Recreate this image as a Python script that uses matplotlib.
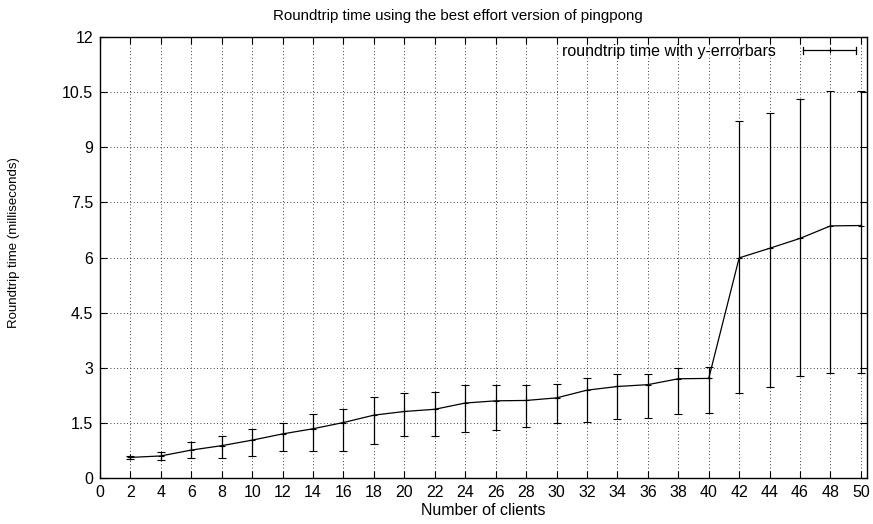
import matplotlib
matplotlib.use("Agg")
import matplotlib.pyplot as plt
from matplotlib.legend_handler import HandlerBase
from matplotlib.lines import Line2D

plt.rcParams['font.family'] = ['Liberation Sans', 'DejaVu Sans']

# Données
clients = [2, 4, 6, 8, 10, 12, 14, 16, 18, 20, 22, 24, 26,
           28, 30, 32, 34, 36, 38, 40, 42, 44, 46, 48, 50]
rtt = [0.56, 0.60, 0.76, 0.88, 1.03, 1.20, 1.34, 1.51, 1.71, 1.81, 1.87, 2.04, 2.10,
       2.11, 2.18, 2.39, 2.49, 2.54, 2.70, 2.71, 5.99, 6.25, 6.52, 6.86, 6.87]
rtt_low = [0.51, 0.50, 0.54, 0.55, 0.61, 0.73, 0.73, 0.73, 0.93, 1.15, 1.15, 1.26, 1.31,
           1.40, 1.50, 1.52, 1.61, 1.62, 1.73, 1.76, 2.30, 2.48, 2.78, 2.87, 2.87]
rtt_high = [0.61, 0.71, 0.97, 1.15, 1.34, 1.51, 1.75, 1.88, 2.20, 2.31, 2.33, 2.52, 2.52,
            2.52, 2.56, 2.73, 2.83, 2.83, 3.00, 3.03, 9.72, 9.94, 10.30, 10.54, 10.54]

xticks = list(range(0, 51, 2))
yticks = [0, 1.5, 3, 4.5, 6, 7.5, 9, 10.5, 12]
ytick_labels = ['0', '1.5', '3', '4.5', '6', '7.5', '9', '10.5', '12']

err_low = [v - lo for v, lo in zip(rtt, rtt_low)]
err_high = [hi - v for v, hi in zip(rtt, rtt_high)]


# échantillon de légende façon gnuplot : barre horizontale avec petites bornes
class GnuplotErrKey(HandlerBase):
    def create_artists(self, legend, orig_handle, xdescent, ydescent,
                       width, height, fontsize, trans):
        y = height / 2 - ydescent
        x0, x1 = -xdescent, width - xdescent
        h = 2.5
        arts = [
            Line2D([x0, x1], [y, y], color='black', lw=0.9),
            Line2D([x0, x0], [y - h, y + h], color='black', lw=0.9),
            Line2D([x1, x1], [y - h, y + h], color='black', lw=0.9),
            Line2D([(x0 + x1) / 2], [y], color='black', marker='+',
                   markersize=5, markeredgewidth=0.8),
        ]
        for a in arts:
            a.set_transform(trans)
        return arts


fig = plt.figure(figsize=(8.73, 5.24), dpi=100)
ax = fig.add_axes([100 / 873, 1 - 478 / 524, 767 / 873, 441 / 524])

eb = ax.errorbar(clients, rtt, yerr=[err_low, err_high], color='black', linewidth=0.9,
                 elinewidth=0.9, capsize=3, capthick=0.9, marker='+', markersize=5,
                 markeredgewidth=0.8, label='roundtrip time with y-errorbars')

ax.set_xlim(0, 50.4)
ax.set_ylim(0, 12)
ax.set_xticks(xticks)
ax.set_yticks(yticks)
ax.set_yticklabels(ytick_labels)
ax.tick_params(direction='in', top=True, right=True, length=5, width=0.8,
               labelsize=11.5, pad=5)
ax.grid(True, linestyle=(0, (1, 3)), color='black', linewidth=0.6)
for s in ax.spines.values():
    s.set_linewidth(1.0)

ax.set_xlabel('Number of clients', fontsize=11.5, labelpad=2)
ax.set_ylabel('Roundtrip time (milliseconds)', fontsize=9.5)
ax.yaxis.set_label_coords(-0.104, 0.534)
ax.set_title('Roundtrip time using the best effort version of pingpong', fontsize=10.8,
             pad=12, x=0.467)

ax.legend([eb], ['roundtrip time with y-errorbars'], loc='upper right', frameon=False,
          bbox_to_anchor=(1 - 6 / 767, 1 - 2 / 441),
          fontsize=11.5, markerfirst=False, handlelength=3.3, handletextpad=1.7,
          borderaxespad=0.0, borderpad=0.3, handler_map={type(eb): GnuplotErrKey()})

plt.savefig('out.png', dpi=100)
